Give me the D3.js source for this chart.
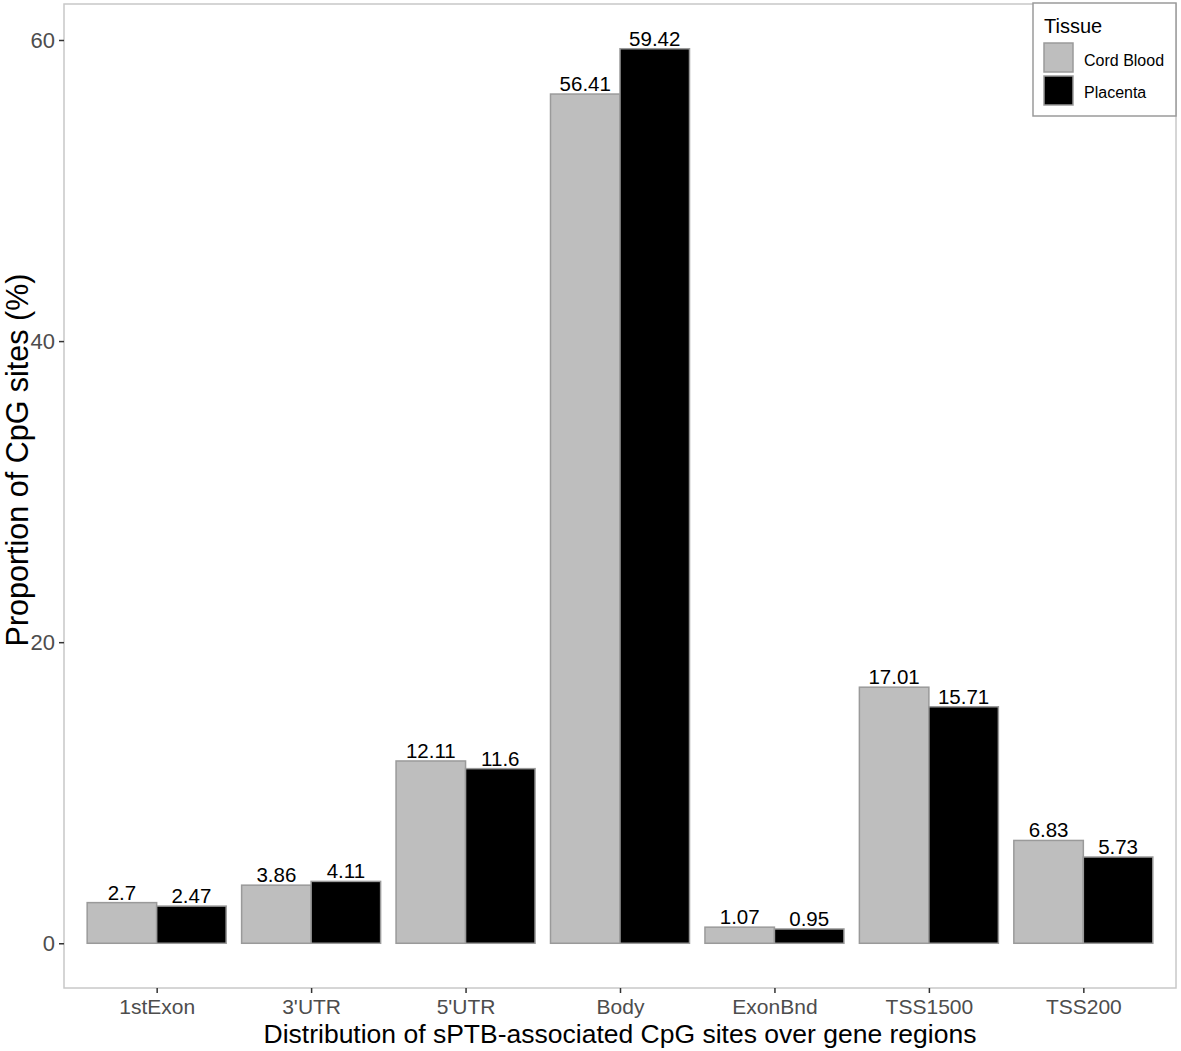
<!DOCTYPE html>
<meta charset="utf-8">
<script src="https://d3js.org/d3.v7.min.js"></script>
<style>
  body { margin: 0; background: #fff; }
  text { font-family: "Liberation Sans", Arial, sans-serif; }
</style>
<div id="chart"></div>
<script>

    // gene regions and proportions (%) per tissue
    var regions = ["1stExon", "3'UTR", "5'UTR", "Body", "ExonBnd", "TSS1500", "TSS200"];
    var tissues = ["Cord Blood", "Placenta"];
    var cordBlood = [2.7, 3.86, 12.11, 56.41, 1.07, 17.01, 6.83];
    var placenta = [2.47, 4.11, 11.6, 59.42, 0.95, 15.71, 5.73];
    var yTicks = [0, 20, 40, 60];

    var W = 1181, H = 1051;
    var margin = { top: 4, right: 5, bottom: 63, left: 64 },
        width = W - margin.left - margin.right,
        height = H - margin.top - margin.bottom;

    var colors = { "Cord Blood": "#bebebe", "Placenta": "#000000" };

    var svg = d3.select("#chart")
        .append("svg")
        .attr("width", W)
        .attr("height", H);

    var g = svg.append("g")
        .attr("transform", "translate(" + margin.left + "," + margin.top + ")");

    var data = regions.map(function (r, i) {
        return { region: r, values: [
            { tissue: "Cord Blood", value: cordBlood[i] },
            { tissue: "Placenta", value: placenta[i] }
        ] };
    });

    // x scale: ggplot style discrete expansion of 0.6 units each side
    var x = d3.scalePoint()
        .domain(regions)
        .range([0, width])
        .padding(0.6);
    var step = x.step();
    var barW = step * 0.9 / 2;

    var ymax = d3.max(placenta.concat(cordBlood));
    var pad = ymax * 0.05;
    var y = d3.scaleLinear()
        .domain([-pad, ymax + pad])
        .range([height, 0]);

    // bars
    var groups = g.selectAll(".grp")
        .data(data)
        .enter()
        .append("g")
        .attr("class", "grp");

    groups.selectAll("rect")
        .data(function (d) { return d.values.map(function (v, j) { return { region: d.region, tissue: v.tissue, value: v.value, j: j }; }); })
        .enter()
        .append("rect")
        .attr("x", function (d) { return x(d.region) - barW + d.j * barW; })
        .attr("y", function (d) { return y(d.value); })
        .attr("width", barW)
        .attr("height", function (d) { return y(0) - y(d.value); })
        .attr("fill", function (d) { return colors[d.tissue]; })
        .attr("stroke", "#9a9a9a")
        .attr("stroke-width", 1.5);

    groups.selectAll(".lbl")
        .data(function (d) { return d.values.map(function (v, j) { return { region: d.region, value: v.value, j: j }; }); })
        .enter()
        .append("text")
        .attr("class", "lbl")
        .attr("x", function (d) { return x(d.region) - barW / 2 + d.j * barW; })
        .attr("y", function (d) { return y(d.value) - 3; })
        .attr("text-anchor", "middle")
        .attr("font-size", "20.5px")
        .attr("fill", "#000")
        .text(function (d) { return d.value; });

    // panel border
    g.append("rect")
        .attr("x", 0).attr("y", 0)
        .attr("width", width).attr("height", height)
        .attr("fill", "none")
        .attr("stroke", "#c8c8c8")
        .attr("stroke-width", 1.5);

    // axes
    var yAxis = g.append("g")
        .call(d3.axisLeft(y).tickValues(yTicks).tickSize(5).tickPadding(4));
    var xAxis = g.append("g")
        .attr("transform", "translate(0," + height + ")")
        .call(d3.axisBottom(x).tickSize(5).tickPadding(6));
    [xAxis, yAxis].forEach(function (a) {
        a.select(".domain").remove();
        a.selectAll("line").attr("stroke", "#333").attr("stroke-width", 1.5);
        a.selectAll("text")
            .attr("font-size", "21px")
            .attr("fill", "#4d4d4d")
            .style("font-family", "'Liberation Sans', Arial, sans-serif");
    });
    yAxis.selectAll("text").attr("font-size", "22px");

    // axis titles
    svg.append("text")
        .attr("x", margin.left + width / 2)
        .attr("y", 1043)
        .attr("text-anchor", "middle")
        .attr("font-size", "26.5px")
        .attr("fill", "#000")
        .text("Distribution of sPTB-associated CpG sites over gene regions");

    svg.append("text")
        .attr("transform", "translate(28,460) rotate(-90)")
        .attr("text-anchor", "middle")
        .attr("font-size", "30.5px")
        .attr("fill", "#000")
        .text("Proportion of CpG sites (%)");

    // legend
    var lg = svg.append("g").attr("transform", "translate(1033,3)");
    lg.append("rect")
        .attr("width", 143).attr("height", 113)
        .attr("fill", "#fff")
        .attr("stroke", "#9a9a9a")
        .attr("stroke-width", 1.5);
    lg.append("text")
        .attr("x", 11).attr("y", 30)
        .attr("font-size", "20px")
        .attr("fill", "#000")
        .text("Tissue");
    tissues.forEach(function (t, i) {
        lg.append("rect")
            .attr("x", 11).attr("y", 40 + i * 33)
            .attr("width", 29).attr("height", 29)
            .attr("fill", colors[t])
            .attr("stroke", "#9a9a9a")
            .attr("stroke-width", 1.5);
        lg.append("text")
            .attr("x", 51).attr("y", 63 + i * 32)
            .attr("font-size", "16px")
            .attr("fill", "#000")
            .text(t);
    });

</script>
